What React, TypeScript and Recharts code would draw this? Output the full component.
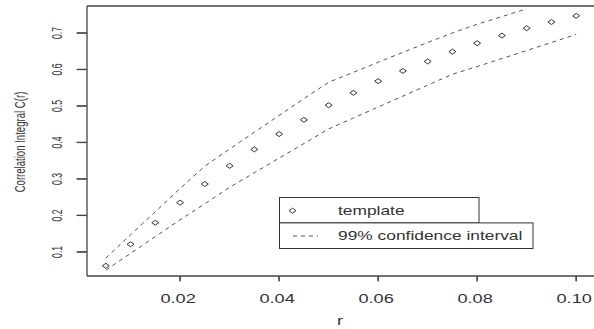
import { ComposedChart, Line, Scatter, XAxis, YAxis, ReferenceLine } from "recharts";

const rValues = [
  0.005, 0.01, 0.015, 0.02, 0.025, 0.03, 0.035, 0.04, 0.045, 0.05, 0.055, 0.06,
  0.065, 0.07, 0.075, 0.08, 0.085, 0.09, 0.095, 0.1,
];
const template = [
  0.062, 0.121, 0.18, 0.235, 0.286, 0.336, 0.381, 0.423, 0.462, 0.502, 0.536,
  0.568, 0.596, 0.622, 0.649, 0.672, 0.693, 0.713, 0.73, 0.747,
];
// last two points of the upper band run above the plot box
const upper = [
  0.083, 0.147, 0.21, 0.274, 0.335, 0.382, 0.428, 0.474, 0.52, 0.565, 0.592,
  0.62, 0.647, 0.674, 0.7, 0.724, 0.745, 0.766, null, null,
];
const lower = [
  0.05, 0.096, 0.142, 0.188, 0.232, 0.277, 0.317, 0.357, 0.397, 0.437, 0.467,
  0.497, 0.527, 0.557, 0.587, 0.608, 0.63, 0.652, 0.674, 0.696,
];
const xTicks = [0.02, 0.04, 0.06, 0.08, 0.1];
const xTickLabels = ["0.02", "0.04", "0.06", "0.08", "0.10"];
const yTicks = [0.1, 0.2, 0.3, 0.4, 0.5, 0.6, 0.7];

const X_DOMAIN = [0.0012, 0.1036];
const Y_DOMAIN = [0.034, 0.774];

const data = rValues.map((r, i) => ({
  r,
  template: template[i],
  upper: upper[i],
  lower: lower[i],
}));

const FONT = "'Liberation Sans', Arial, sans-serif";
const INK = "#333";
const LINE = "#555";
const AXIS = "#444";

// plot box edges in px (chart margin + axis sizes)
const PLOT_LEFT = 87;
const PLOT_BOTTOM = 276;

const XTick = ({ x, payload }: any) => {
  const idx = xTicks.indexOf(payload.value);
  return (
    <g>
      <rect x={x - 0.6} y={PLOT_BOTTOM} width={1.2} height={5.5} fill={AXIS} />
      <g transform={`translate(${x - 2},302.5) scale(1.4,1)`}>
        <text x={0} y={0} textAnchor="middle" fontSize={13} fontFamily={FONT} fill={INK}>
          {idx >= 0 ? xTickLabels[idx] : payload.value}
        </text>
      </g>
    </g>
  );
};

const YTick = ({ y, payload }: any) => (
  <g>
    <rect x={PLOT_LEFT - 10.5} y={y - 0.6} width={10.5} height={1.2} fill={AXIS} />
    <g transform={`translate(62,${y}) scale(1.6,1) rotate(-90)`}>
      <text x={0} y={0} textAnchor="middle" fontSize={8.6} fontFamily={FONT} fill={INK}>
        {payload.value.toFixed(1)}
      </text>
    </g>
  </g>
);

const Diamond = ({ cx, cy }: any) => (
  <polygon
    points={`${cx - 3.5},${cy} ${cx},${cy - 2.5} ${cx + 3.5},${cy} ${cx},${cy + 2.5}`}
    fill="none"
    stroke={INK}
    strokeWidth={1}
  />
);

// legend drawn as in the R plot: two stacked boxes
const LegendBox = () => (
  <svg
    width={256}
    height={53}
    style={{ position: "absolute", left: 279, top: 197, display: "block" }}
  >
    <rect x={0.5} y={0.5} width={199.5} height={25.4} fill="#fff" stroke={INK} />
    <rect x={0.5} y={25.9} width={253.5} height={25.6} fill="#fff" stroke={INK} />
    <polygon points="10,13.7 13.5,11.2 17,13.7 13.5,16.2" fill="none" stroke={INK} />
    <g transform="translate(59,18) scale(1.39,1)">
      <text x={0} y={0} fontSize={12.5} fontFamily={FONT} fill={INK}>
        template
      </text>
    </g>
    <line x1={14} y1={39} x2={39} y2={39} stroke={LINE} strokeDasharray="4 4" />
    <g transform="translate(59,43) scale(1.39,1)">
      <text x={0} y={0} fontSize={12.5} fontFamily={FONT} fill={INK}>
        99% confidence interval
      </text>
    </g>
  </svg>
);

export default function App() {
  return (
    <div
      style={{
        position: "absolute",
        left: 0,
        top: 0,
        width: 594,
        height: 329,
        background: "#fff",
      }}
    >
      <ComposedChart
        width={594}
        height={329}
        data={data}
        margin={{ top: 6, right: 0, bottom: 0, left: 0 }}
      >
        <XAxis
          dataKey="r"
          type="number"
          domain={X_DOMAIN}
          ticks={xTicks}
          tick={<XTick />}
          tickSize={5}
          height={53}
          axisLine={{ stroke: AXIS, strokeWidth: 1.3 }}
          tickLine={{ stroke: AXIS, strokeWidth: 1.2 }}
        />
        <YAxis
          type="number"
          domain={Y_DOMAIN}
          ticks={yTicks}
          tick={<YTick />}
          tickSize={10}
          width={87}
          axisLine={{ stroke: AXIS, strokeWidth: 1.3 }}
          tickLine={{ stroke: AXIS, strokeWidth: 1.2 }}
        />
        <Line
          dataKey="upper"
          type="linear"
          stroke={LINE}
          strokeWidth={1}
          strokeDasharray="4 4"
          dot={false}
          connectNulls={false}
          isAnimationActive={false}
        />
        <Line
          dataKey="lower"
          type="linear"
          stroke={LINE}
          strokeWidth={1}
          strokeDasharray="4 4"
          dot={false}
          isAnimationActive={false}
        />
        <Scatter dataKey="template" shape={<Diamond />} isAnimationActive={false} />
        <ReferenceLine y={Y_DOMAIN[1]} stroke={AXIS} strokeWidth={1.3} ifOverflow="visible" />
      </ComposedChart>
      {/* axis titles, stretched like the reference */}
      <svg
        width={594}
        height={329}
        style={{ position: "absolute", left: 0, top: 0, pointerEvents: "none" }}
      >
        <g transform="translate(340,325) scale(1.4,1)">
          <text x={0} y={0} textAnchor="middle" fontSize={13} fontFamily={FONT} fill={INK}>
            r
          </text>
        </g>
        <g transform="translate(25,142) scale(1.6,1) rotate(-90)">
          <text x={0} y={0} textAnchor="middle" fontSize={9.6} fontFamily={FONT} fill={INK}>
            Correlation Integral C(r)
          </text>
        </g>
      </svg>
      <LegendBox />
    </div>
  );
}
